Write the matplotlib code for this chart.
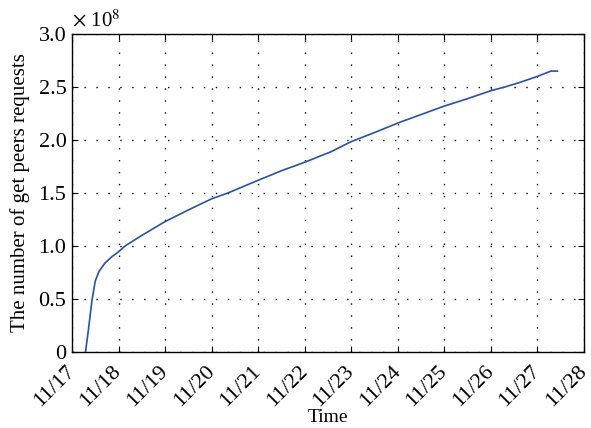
import numpy as np
import matplotlib
matplotlib.use('Agg')
from matplotlib import pyplot as plt

plt.rcParams['font.family'] = ['Liberation Serif', 'DejaVu Serif']
plt.rcParams['mathtext.fontset'] = 'stix'

# day of November, requests in units of 1e8
days = [17.29, 17.35, 17.43, 17.50, 17.58, 17.71, 17.86, 18.0,
        18.14, 18.5, 19.0, 19.5, 20.0, 20.35, 21.0, 21.5, 22.0, 22.57,
        23.0, 23.5, 24.0, 24.5, 25.0, 25.5, 26.0, 26.3, 26.6, 27.0,
        27.29, 27.43]
requests = [0.0, 0.20, 0.49, 0.67, 0.76, 0.84, 0.90, 0.945,
            1.0, 1.10, 1.23, 1.34, 1.445, 1.5, 1.62, 1.71, 1.79, 1.89,
            1.985, 2.07, 2.16, 2.24, 2.32, 2.39, 2.465, 2.5, 2.54, 2.60,
            2.65, 2.65]

xticks = list(range(17, 29))
xlabels = ['11/%d' % d for d in xticks]
yticks = [0, 0.5, 1.0, 1.5, 2.0, 2.5, 3.0]
ylabels = ['0', '0.5', '1.0', '1.5', '2.0', '2.5', '3.0']

fig = plt.figure(figsize=(5.91, 4.28), dpi=100)
ax = fig.add_axes([72 / 591, 0.1776, 512 / 591, 0.743])
ax.plot(days, requests, color='#2b52a0', lw=1.2)

ax.set_xlim(17, 28)
ax.set_ylim(0, 3.0)
ax.set_xticks(xticks)
ax.set_xticklabels(xlabels, rotation=45, ha='right', va='center',
                   rotation_mode='anchor')
ax.set_yticks(yticks)
ax.set_yticklabels(ylabels)
ax.tick_params(direction='in', labelsize=16, length=4, top=True, right=True,
               pad=4)
ax.tick_params(axis='x', pad=12)
ax.grid(True, color='black', linestyle=(0, (1, 7.6)), linewidth=1.0)
for s in ax.spines.values():
    s.set_linewidth(1.0)

ax.set_xlabel('Time', fontsize=14, labelpad=-1)
ax.set_ylabel('The number of get peers requests', fontsize=15, labelpad=6)
ax.text(0.0, 1.01, r'$\times$ 10$^{8}$', transform=ax.transAxes, fontsize=15,
        ha='left', va='bottom')

fig.savefig('out.png', dpi=100)
